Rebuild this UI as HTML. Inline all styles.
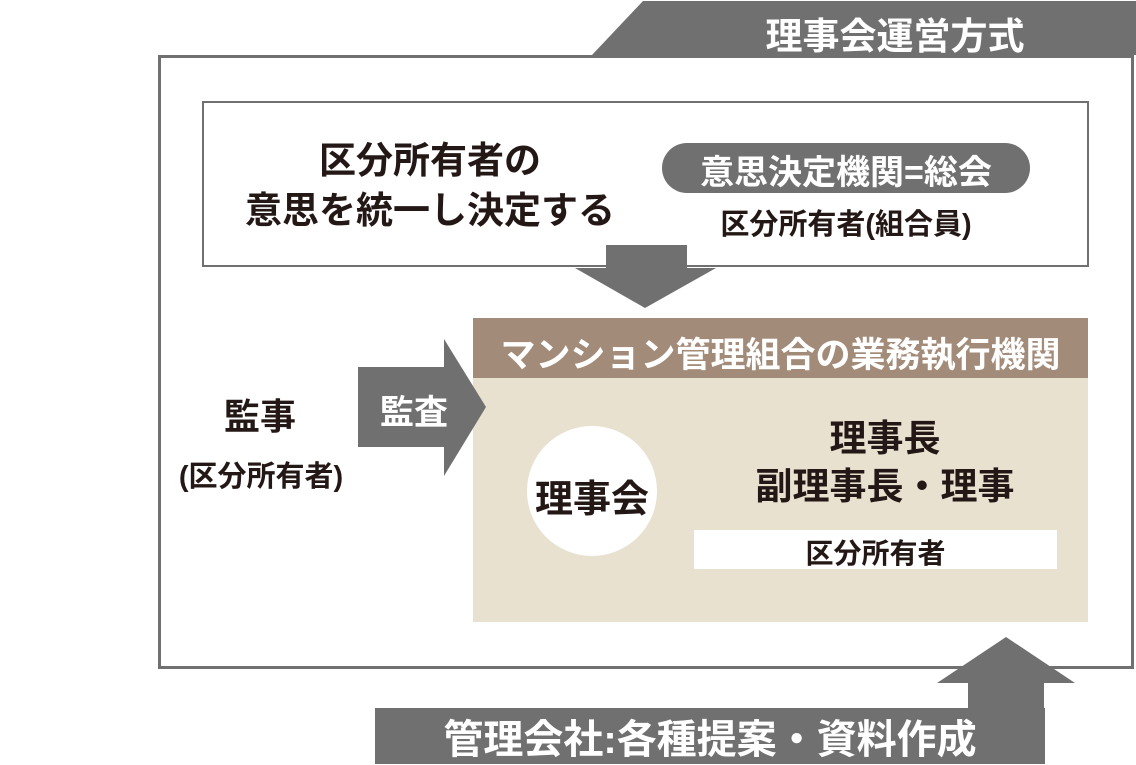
<!DOCTYPE html>
<html><head><meta charset="utf-8"><style>
body{margin:0;width:1136px;height:764px;background:#fff;position:relative;overflow:hidden;font-family:"Liberation Sans","Noto Sans CJK JP",sans-serif;font-weight:bold;}
.t{position:absolute;white-space:nowrap;text-align:center;}
</style></head><body>
<svg width="1136" height="764" style="position:absolute;left:0;top:0">
<polygon points="592,55 643,1 1136,1 1136,55" fill="#707070"/>
<rect x="159.5" y="56.5" width="973" height="611" fill="none" stroke="#707070" stroke-width="3"/>
<rect x="203" y="102" width="885" height="164" fill="#fff" stroke="#707070" stroke-width="2"/>
<rect x="606" y="245" width="81" height="25" fill="#707070"/>
<polygon points="575,268 716,268 645,308" fill="#707070"/>
<rect x="662" y="143" width="368" height="50" rx="25" fill="#707070"/>
<rect x="473" y="318" width="615" height="60" fill="#a38b79"/>
<rect x="473" y="378" width="615" height="244" fill="#e8e1d0"/>
<circle cx="592" cy="491" r="65" fill="#fff"/>
<rect x="694" y="530" width="363" height="39" fill="#fff"/>
<rect x="358" y="367" width="87" height="80" fill="#707070"/>
<polygon points="444,339 486,407 444,476" fill="#707070"/>
<rect x="375" y="708" width="670" height="56" fill="#707070"/>
<rect x="968" y="682" width="76" height="28" fill="#707070"/>
<polygon points="937,683 1075,683 1006,637" fill="#707070"/>
</svg>
<div class="t" style="left:740px;top:6px;width:310px;font-size:37px;color:#fff;">理事会運営方式</div>
<div class="t" style="left:220px;top:136px;width:420px;font-size:37px;line-height:50px;color:#231815;">区分所有者の<br>意思を統一し決定する</div>
<div class="t" style="left:662px;top:145px;width:368px;font-size:34px;color:#fff;">意思決定機関=総会</div>
<div class="t" style="left:662px;top:201px;width:368px;font-size:29px;color:#231815;">区分所有者(組合員)</div>
<div class="t" style="left:473px;top:327px;width:615px;font-size:35px;color:#fff;">マンション管理組合の業務執行機関</div>
<div class="t" style="left:180px;top:388px;width:160px;font-size:36px;color:#231815;">監事</div>
<div class="t" style="left:166px;top:453px;width:190px;font-size:29px;color:#231815;">(区分所有者)</div>
<div class="t" style="left:358px;top:385px;width:115px;font-size:34px;color:#fff;text-align:left;padding-left:22px;">監査</div>
<div class="t" style="left:517px;top:468px;width:150px;font-size:38px;color:#231815;">理事会</div>
<div class="t" style="left:700px;top:415px;width:370px;font-size:37px;line-height:48px;color:#231815;">理事長<br>副理事長・理事</div>
<div class="t" style="left:694px;top:532px;width:363px;font-size:28px;color:#231815;">区分所有者</div>
<div class="t" style="left:375px;top:707px;width:670px;font-size:40px;color:#fff;">管理会社:各種提案・資料作成</div>
</body></html>
